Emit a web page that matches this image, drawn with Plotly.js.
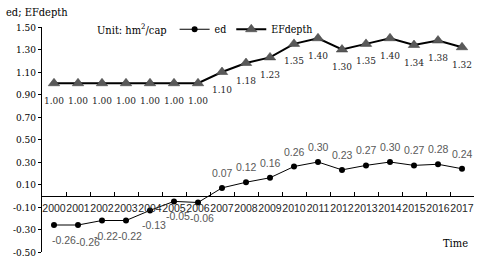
<!DOCTYPE html>
<html><head><meta charset="utf-8">
<script src="https://cdn.plot.ly/plotly-3.0.1.min.js"></script>
<style>html,body{margin:0;padding:0;background:#fff}#c{width:480px;height:262px}</style>
</head><body><div id="c"></div>
<script>
const years = ['2000','2001','2002','2003','2004','2005','2006','2007','2008','2009','2010','2011','2012','2013','2014','2015','2016','2017'];
const ed = [-0.26,-0.26,-0.22,-0.22,-0.13,-0.05,-0.06,0.07,0.12,0.16,0.26,0.30,0.23,0.27,0.30,0.27,0.28,0.24];
const efdepth = [1.00,1.00,1.00,1.00,1.00,1.00,1.00,1.10,1.18,1.23,1.35,1.40,1.30,1.35,1.40,1.34,1.38,1.32];
const yTicks = [-0.5,-0.3,-0.1,0.1,0.3,0.5,0.7,0.9,1.1,1.3,1.5];

const SERIF = 'DejaVu Serif Condensed, DejaVu Serif';
const SANS = 'Liberation Sans';

const traces = [
  {x: years, y: ed, name: 'ed', type: 'scatter', mode: 'lines+markers',
   line: {color: '#000', width: 1},
   marker: {symbol: 'circle', size: 6, color: '#000'}},
  {x: years, y: efdepth, name: 'EFdepth', type: 'scatter', mode: 'lines+markers',
   line: {color: '#000', width: 2},
   marker: {symbol: 'triangle-up', size: 10, color: '#595959', line: {color: '#3a3a3a', width: 0.5}}}
];

// data labels anchored to the data points (category index on x) through the axes
const edLabels = ed.map((v,i)=>({
  x: years.indexOf(years[i]), y: v, xref: 'x', yref: 'y', text: v.toFixed(2), showarrow: false,
  xshift: v < 0 ? (i < 2 ? 10 : 4) : 0, yshift: v < 0 ? (i === 1 ? -17 : -15) : 15,
  font: {family: SANS, size: 10.5, color: '#595959'}
}));
const efLabels = efdepth.map((v,i)=>({
  x: years.indexOf(years[i]), y: v, xref: 'x', yref: 'y', text: v.toFixed(2), showarrow: false,
  yshift: -17, font: {family: SERIF, size: 10, color: '#262626'}
}));

const layout = {
  width: 480, height: 262,
  margin: {l: 42, r: 6, t: 27, b: 10},
  paper_bgcolor: '#fff', plot_bgcolor: '#fff',
  font: {family: SERIF, size: 10, color: '#000'},
  xaxis: {type: 'category', range: [-0.5, 17.5], anchor: 'free', position: 0.25,
    showline: true, linecolor: '#000', linewidth: 1,
    ticks: 'inside', ticklen: 4, tickcolor: '#000', tickson: 'boundaries',
    tickangle: 0, showgrid: false, zeroline: false, ticklabelstandoff: 3,
    tickfont: {family: SANS, size: 10.5, color: '#262626'}},
  yaxis: {range: [-0.5, 1.5], tickvals: yTicks, ticktext: yTicks.map(v=>v.toFixed(2)),
    showline: true, linecolor: '#000', linewidth: 1,
    ticks: 'outside', ticklen: 3, tickcolor: '#000',
    showgrid: false, zeroline: false,
    tickfont: {family: SERIF, size: 10, color: '#000'}},
  showlegend: true,
  legend: {orientation: 'h', x: 0.307, xanchor: 'left', y: 0.99, yanchor: 'middle',
    font: {family: SERIF, size: 10.5, color: '#000'},
    bgcolor: 'rgba(0,0,0,0)', itemwidth: 30, tracegroupgap: 0},
  annotations: [
    {text: 'ed; EFdepth', xref: 'paper', yref: 'paper', x: -38/432, y: 1 + 15/225, xanchor: 'left', yanchor: 'middle', showarrow: false,
     font: {family: SERIF, size: 11, color: '#000'}},
    {text: 'Time', xref: 'paper', yref: 'paper', x: 1 - 4/432, y: (252-243)/225, xanchor: 'right', yanchor: 'middle', showarrow: false,
     font: {family: SERIF, size: 11, color: '#000'}},
    {text: 'Unit: hm<sup>2</sup>/cap', xref: 'paper', yref: 'paper', x: (95-42)/432, y: (252-30)/225, xanchor: 'left', yanchor: 'middle', showarrow: false,
     font: {family: SERIF, size: 11, color: '#000'}}
  ].concat(edLabels, efLabels)
};
Plotly.newPlot('c', traces, layout, {staticPlot: true, displayModeBar: false});
</script>
</body></html>
